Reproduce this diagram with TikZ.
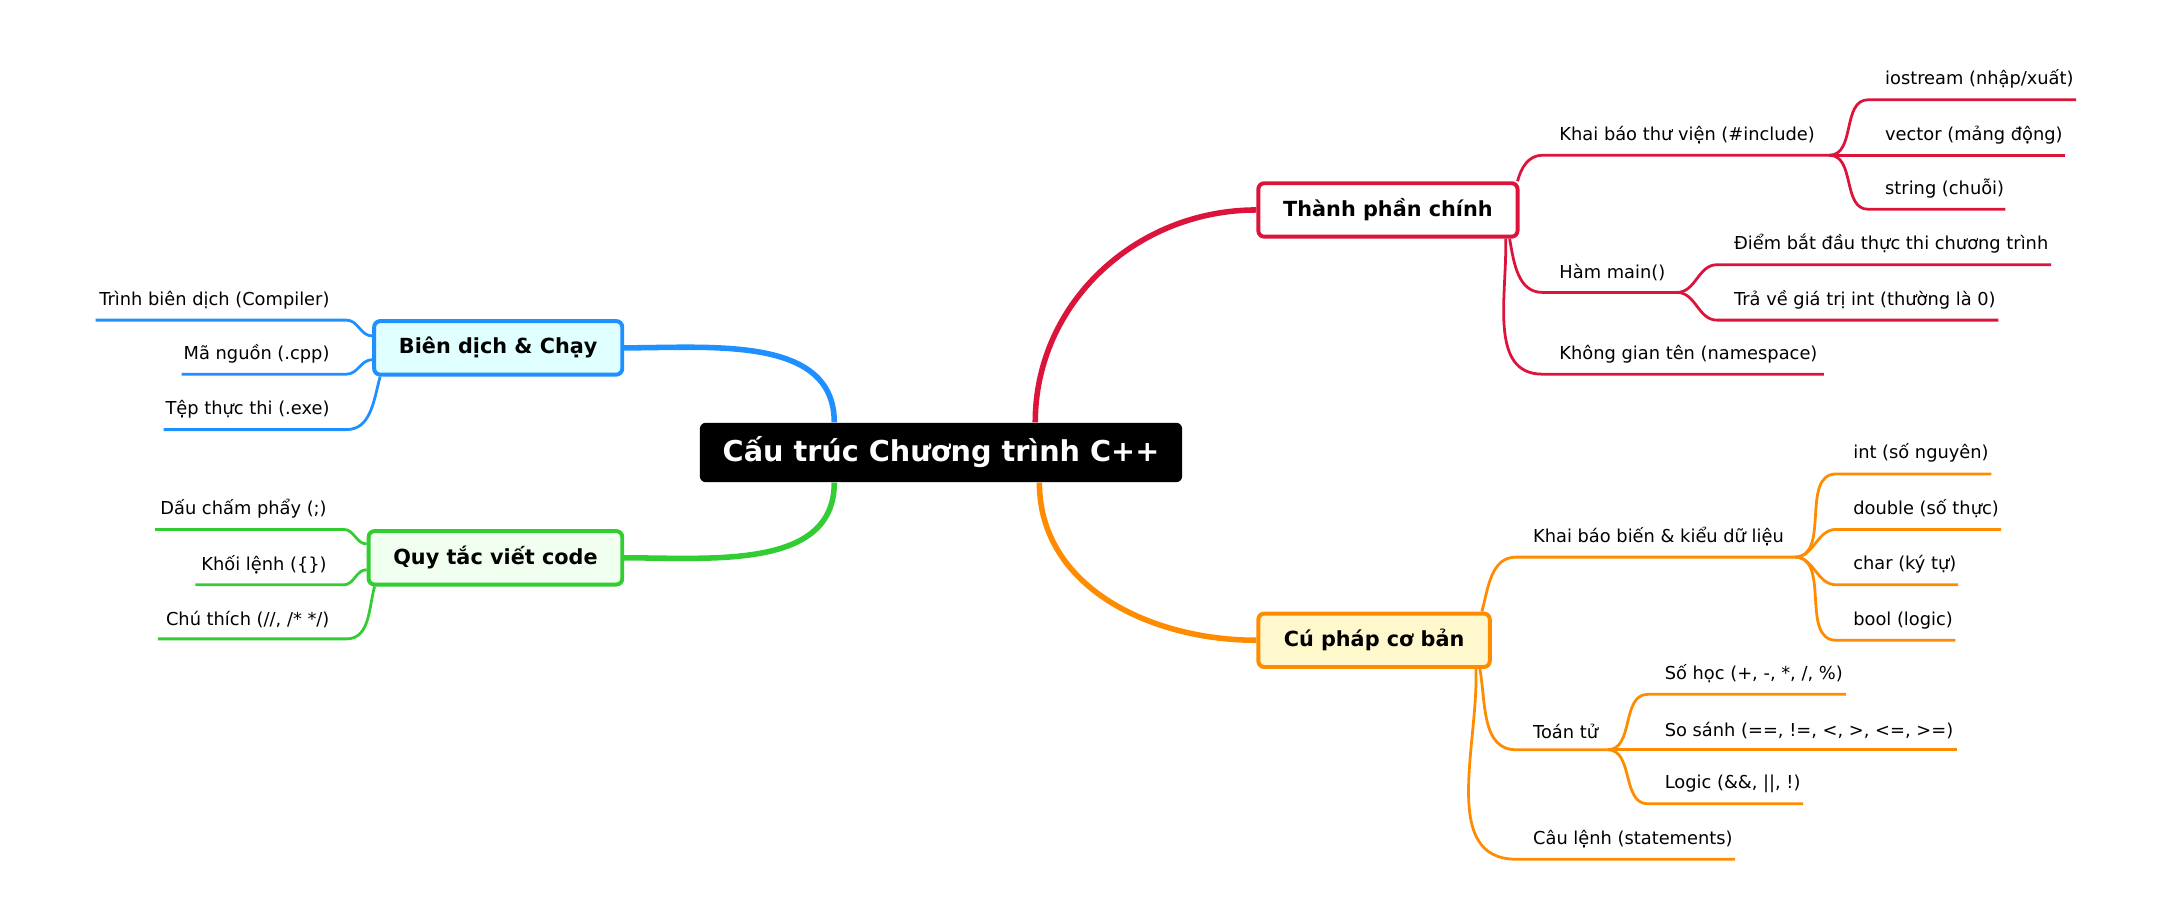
\documentclass[tikz,border=0pt]{standalone}
\usepackage{fontspec}
\setmainfont{DejaVu Sans}
\pgfdeclarelayer{background}
\pgfsetlayers{background,main}
\definecolor{cRed}{HTML}{DC143C}
\definecolor{cOrange}{HTML}{FF8C00}
\definecolor{cBlue}{HTML}{1E90FF}
\definecolor{cGreen}{HTML}{32CD32}
\tikzset{
  leaf/.style={font=\fontsize{9}{11}\selectfont, inner xsep=8.4pt, inner ysep=5.5pt},
  rl/.style={leaf, anchor=south west},
  ll/.style={leaf, anchor=south east},
  branch/.style={draw=#1, line width=2pt, rounded corners=3pt, minimum height=27pt,
    font=\bfseries\fontsize{10.5}{12}\selectfont},
  trunk/.style={draw=#1, line width=2.8pt},
  twig/.style={draw=#1, line width=1.4pt},
}
\begin{document}
\begin{tikzpicture}[x=0.7pt,y=-0.7pt]
\useasboundingbox (0,0) rectangle (1568,653);

%root and branches
\node [fill=black, text=white, rounded corners=3pt, minimum width=243.6pt, minimum height=30pt,
  font=\bfseries\fontsize{14.5}{16}\selectfont] (root) at (679,326.5) {Cấu trúc Chương trình C++};
\node [branch=cRed, fill=white, minimum width=130.9pt] (tp) at (1001.5,151.5) {Thành phần chính};
\node [branch=cOrange, fill={rgb,255:red,255;green,248;blue,204}, minimum width=116.9pt] (cp) at (991.5,462) {Cú pháp cơ bản};
\node [branch=cBlue, fill={rgb,255:red,224;green,255;blue,255}, minimum width=125.3pt] (bd) at (359.5,251) {Biên dịch \& Chạy};
\node [branch=cGreen, fill={rgb,255:red,240;green,255;blue,240}, minimum width=128.1pt] (qt) at (357.5,402.5) {Quy tắc viết code};

%thanh phan chinh
\node [rl] (kb) at (1113,112) {Khai báo thư viện (\#include)};
\coordinate (kb-e) at (1320,112);
\node [rl] (io) at (1348,72) {iostream (nhập/xuất)};
\coordinate (io-e) at (1498,72);
\node [rl] (vec) at (1348,112) {vector (mảng động)};
\coordinate (vec-e) at (1490,112);
\node [rl] (str) at (1348,151) {string (chuỗi)};
\coordinate (str-e) at (1447,151);
\node [rl] (hm) at (1113,211) {Hàm main()};
\coordinate (hm-e) at (1210,211);
\node [rl] (dbd) at (1239,191) {Điểm bắt đầu thực thi chương trình};
\coordinate (dbd-e) at (1480,191);
\node [rl] (tv) at (1239,231) {Trả về giá trị int (thường là 0)};
\coordinate (tv-e) at (1442,231);
\node [rl] (ns) at (1113,270) {Không gian tên (namespace)};
\coordinate (ns-e) at (1316,270);

%cu phap co ban
\node [rl] (kbb) at (1094,402) {Khai báo biến \& kiểu dữ liệu};
\coordinate (kbb-e) at (1295,402);
\node [rl] (int) at (1325,342) {int (số nguyên)};
\coordinate (int-e) at (1437,342);
\node [rl] (dbl) at (1325,382) {double (số thực)};
\coordinate (dbl-e) at (1444,382);
\node [rl] (chr) at (1325,422) {char (ký tự)};
\coordinate (chr-e) at (1413,422);
\node [rl] (bool) at (1325,462) {bool (logic)};
\coordinate (bool-e) at (1411,462);
\node [rl] (tt) at (1094,541) {Toán tử};
\coordinate (tt-e) at (1160,541);
\node [rl] (sh) at (1189,501) {Số học (+, -, *, /, \%)};
\coordinate (sh-e) at (1332,501);
\node [rl] (ss) at (1189,541) {So sánh (==, !=, <, >, <=, >=)};
\coordinate (ss-e) at (1412,541);
\node [rl] (lg) at (1189,580) {Logic (\&\&, ||, !)};
\coordinate (lg-e) at (1301,580);
\node [rl] (cl) at (1094,620) {Câu lệnh (statements)};
\coordinate (cl-e) at (1252,620);

%bien dich
\node [ll] (tbd) at (250,231) {Trình biên dịch (Compiler)};
\coordinate (tbd-s) at (69,231);
\node [ll] (mn) at (250,270) {Mã nguồn (.cpp)};
\coordinate (mn-s) at (131,270);
\node [ll] (tep) at (250,310) {Tệp thực thi (.exe)};
\coordinate (tep-s) at (118,310);

%quy tac
\node [ll] (dcp) at (248,382) {Dấu chấm phẩy (;)};
\coordinate (dcp-s) at (112,382);
\node [ll] (kl) at (248,422) {Khối lệnh (\{\})};
\coordinate (kl-s) at (141,422);
\node [ll] (ct) at (250,461) {Chú thích (//, /* */)};
\coordinate (ct-s) at (114,461);

\begin{pgfonlayer}{background}
%trunks
\draw [trunk=cRed] ([xshift=47.6pt]root.north) to[out=90,in=180] (tp.west);
\draw [trunk=cOrange] ([xshift=49.7pt]root.south) to[out=-90,in=180] (cp.west);
\draw [trunk=cBlue] ([xshift=-53.9pt]root.north) to[out=90,in=0] (bd.east);
\draw [trunk=cGreen] ([xshift=-53.9pt]root.south) to[out=-90,in=0] (qt.east);

%red twigs
\draw [twig=cRed] ([xshift=-1pt]tp.north east) to[out=75,in=180] (kb.south west) -- (kb-e);
\draw [twig=cRed] ([xshift=-5pt]tp.south east) to[out=-80,in=180] (hm.south west) -- (hm-e);
\draw [twig=cRed] ([xshift=-7pt]tp.south east) to[out=-88,in=180] (ns.south west) -- (ns-e);
\draw [twig=cRed] (kb-e) to[out=0,in=180] (io.south west) -- (io-e);
\draw [twig=cRed] (kb-e) -- (vec.south west) -- (vec-e);
\draw [twig=cRed] (kb-e) to[out=0,in=180] (str.south west) -- (str-e);
\draw [twig=cRed] (hm-e) to[out=0,in=180] (dbd.south west) -- (dbd-e);
\draw [twig=cRed] (hm-e) to[out=0,in=180] (tv.south west) -- (tv-e);

%orange twigs
\draw [twig=cOrange] ([xshift=-5pt]cp.north east) to[out=75,in=180] (kbb.south west) -- (kbb-e);
\draw [twig=cOrange] ([xshift=-6pt]cp.south east) to[out=-80,in=180] (tt.south west) -- (tt-e);
\draw [twig=cOrange] ([xshift=-8pt]cp.south east) to[out=-88,in=180] (cl.south west) -- (cl-e);
\draw [twig=cOrange] (kbb-e) to[out=0,in=180] (int.south west) -- (int-e);
\draw [twig=cOrange] (kbb-e) to[out=0,in=180] (dbl.south west) -- (dbl-e);
\draw [twig=cOrange] (kbb-e) to[out=0,in=180] (chr.south west) -- (chr-e);
\draw [twig=cOrange] (kbb-e) to[out=0,in=180] (bool.south west) -- (bool-e);
\draw [twig=cOrange] (tt-e) to[out=0,in=180] (sh.south west) -- (sh-e);
\draw [twig=cOrange] (tt-e) -- (ss.south west) -- (ss-e);
\draw [twig=cOrange] (tt-e) to[out=0,in=180] (lg.south west) -- (lg-e);

%blue and green twigs
\draw [twig=cBlue] (tbd-s) -- (tbd.south east) to[out=0,in=180] ([yshift=6pt]bd.west);
\draw [twig=cBlue] (mn-s) -- (mn.south east) to[out=0,in=180] ([yshift=-6pt]bd.west);
\draw [twig=cBlue] (tep-s) -- (tep.south east) to[out=0,in=-105] ([xshift=4pt]bd.south west);
\draw [twig=cGreen] (dcp-s) -- (dcp.south east) to[out=0,in=180] ([yshift=7pt]qt.west);
\draw [twig=cGreen] (kl-s) -- (kl.south east) to[out=0,in=180] ([yshift=-6pt]qt.west);
\draw [twig=cGreen] (ct-s) -- (ct.south east) to[out=0,in=-105] ([xshift=4pt]qt.south west);
\end{pgfonlayer}

\end{tikzpicture}
\end{document}
